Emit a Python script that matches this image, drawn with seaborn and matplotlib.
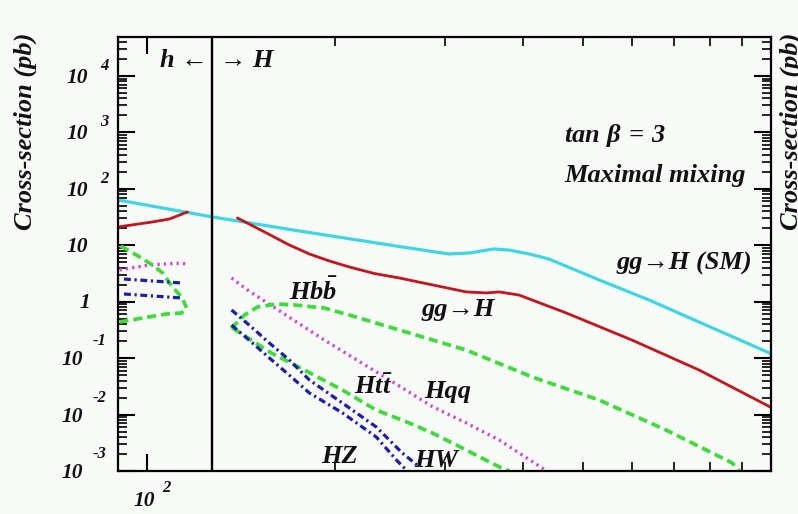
import matplotlib
matplotlib.use("Agg")
import matplotlib.pyplot as plt
import matplotlib.ticker as mticker
import pandas as pd
import seaborn as sns

# ---------------- data (mass in GeV, cross-section in pb) ----------------
sm_gg_mass = [90, 127.5, 175.7, 254, 305, 329, 360, 381, 410, 441, 531, 638, 767, 1000]
sm_gg_xsec = [63.5, 31.7, 17.9, 9.5, 7.0, 7.3, 8.6, 8.2, 7.0, 5.7, 2.42, 1.07, 0.436, 0.12]

h_gg_mass = [90, 102, 108.8, 116.3]
h_gg_xsec = [21.1, 25.8, 29.2, 38.9]
H_gg_mass = [139.8, 155.6, 169.3, 182.3, 196.3, 211.2, 231.6, 254, 325, 350, 367, 395, 470, 599, 767, 1000]
H_gg_xsec = [30.4, 16.5, 10.1, 7.0, 5.26, 4.12, 3.16, 2.63, 1.49, 1.43, 1.49, 1.31, 0.631, 0.209, 0.0616, 0.0134]

h_qq_mass = [90.5, 101, 111.5, 115.7]
h_qq_xsec = [3.65, 4.47, 4.8, 4.7]
H_qq_mass = [136.8, 145.1, 192.6, 254, 287, 325, 367, 430, 438]
H_qq_xsec = [2.63, 1.61, 0.209, 0.032, 0.0138, 0.0071, 0.00354, 0.00113, 0.001]

h_bb_mass = [90.9, 97.5, 102.2, 106.1, 110.0, 113.8, 115.9]
h_bb_xsec = [9.7, 6.2, 4.47, 3.23, 1.82, 1.21, 0.78]
h_tt_mass = [90.5, 98.5, 107.6, 113.8, 115.9]
h_tt_xsec = [0.436, 0.514, 0.605, 0.631, 0.78]
H_bb_mass = [136.6, 143.5, 150.5, 162.0, 172.5, 192.6, 219.2, 254, 325, 414.6, 530.6, 679.2, 866.4, 888.9]
H_bb_xsec = [0.337, 0.581, 0.805, 0.91, 0.875, 0.773, 0.514, 0.315, 0.139, 0.0463, 0.0181, 0.00532, 0.00139, 0.00104]
H_tt_mass = [137.3, 158.5, 178.9, 205.9, 233.3, 263.5, 286.9, 325.1, 367.1, 380.9]
H_tt_xsec = [0.342, 0.123, 0.0616, 0.0272, 0.0120, 0.00708, 0.00471, 0.00235, 0.00118, 0.001]

h_W_mass = [92, 114.2]
h_W_xsec = [2.52, 2.14]
h_Z_mass = [92, 114.2]
h_Z_xsec = [1.37, 1.16]
H_W_mass = [136.8, 147.2, 157.3, 169.3, 182.3, 205.9, 233.3, 256.8, 273.5]
H_W_xsec = [0.713, 0.356, 0.185, 0.0926, 0.041, 0.016, 0.00602, 0.00208, 0.00118]
H_Z_mass = [136.8, 147.2, 157.3, 170.6, 182.3, 205.9, 233.3, 251.2, 260.6]
H_Z_xsec = [0.386, 0.193, 0.1005, 0.0463, 0.0241, 0.0107, 0.004, 0.00157, 0.00104]

h_H_boundary = 127.5
x_limits = (90, 1000)
y_limits = (1e-3, 4.9e4)
y_exponents = list(range(-3, 5))

# ---------------- style ----------------
sns.set_theme(style="ticks")
BG = "#f8faf8"
plt.rcParams["font.family"] = ["Liberation Serif", "DejaVu Serif"]
plt.rcParams["font.weight"] = "bold"
plt.rcParams["font.style"] = "italic"
plt.rcParams["mathtext.fontset"] = "custom"
plt.rcParams["mathtext.it"] = "Liberation Serif:bold:italic"
plt.rcParams["mathtext.rm"] = "Liberation Serif:bold"
plt.rcParams["mathtext.bf"] = "Liberation Serif:bold:italic"
plt.rcParams["lines.scale_dashes"] = False

CYAN = "#3fd6e2"
RED = "#c3161c"
GREEN = "#3ddc3a"
MAGENTA = "#c94fcf"
BLUE = "#1c1ea6"

fig = plt.figure(figsize=(7.98, 5.14), dpi=100, facecolor=BG)
ax = fig.add_axes([118 / 798, 1 - 471 / 514, (771 - 118) / 798, (471 - 37) / 514])
ax.set_facecolor(BG)
ax.set_xscale("log")
ax.set_yscale("log")


def draw(mass, xsec, color, lw, ls):
    df = pd.DataFrame({"mass": mass, "xsec": xsec})
    sns.lineplot(data=df, x="mass", y="xsec", ax=ax, color=color, lw=lw,
                 linestyle=ls, estimator=None, sort=False, legend=False)


GREEN_LS = (0, (6.5, 3.6))
MAG_LS = (0, (1.7, 2.9))
BLUE_LS = (0, (5.0, 2.6, 1.6, 2.6))

draw(sm_gg_mass, sm_gg_xsec, CYAN, 2.3, "-")
draw(h_gg_mass, h_gg_xsec, RED, 2.0, "-")
draw(H_gg_mass, H_gg_xsec, RED, 2.0, "-")
draw(h_qq_mass, h_qq_xsec, MAGENTA, 2.4, MAG_LS)
draw(H_qq_mass, H_qq_xsec, MAGENTA, 2.4, MAG_LS)
draw(h_bb_mass, h_bb_xsec, GREEN, 2.7, GREEN_LS)
draw(h_tt_mass, h_tt_xsec, GREEN, 2.7, GREEN_LS)
draw(H_bb_mass, H_bb_xsec, GREEN, 2.7, GREEN_LS)
draw(H_tt_mass, H_tt_xsec, GREEN, 2.7, GREEN_LS)
draw(h_W_mass, h_W_xsec, BLUE, 2.3, BLUE_LS)
draw(h_Z_mass, h_Z_xsec, BLUE, 2.3, BLUE_LS)
draw(H_W_mass, H_W_xsec, BLUE, 2.3, BLUE_LS)
draw(H_Z_mass, H_Z_xsec, BLUE, 2.3, BLUE_LS)

ax.axvline(h_H_boundary, color="black", lw=1.7)

ax.set_xlim(*x_limits)
ax.set_ylim(*y_limits)
ax.set_xlabel("")
ax.set_ylabel("")

# ticks
ax.xaxis.set_major_locator(mticker.LogLocator(base=10, numticks=10))
ax.xaxis.set_minor_locator(mticker.LogLocator(base=10, subs=range(2, 10), numticks=20))
ax.yaxis.set_major_locator(mticker.LogLocator(base=10, numticks=20))
ax.yaxis.set_minor_locator(mticker.LogLocator(base=10, subs=range(2, 10), numticks=40))
ax.xaxis.set_major_formatter(mticker.NullFormatter())
ax.xaxis.set_minor_formatter(mticker.NullFormatter())
ax.yaxis.set_major_formatter(mticker.NullFormatter())
ax.yaxis.set_minor_formatter(mticker.NullFormatter())
ax.tick_params(which="both", direction="in", top=True, right=True, color="black")
ax.tick_params(which="major", length=12.5, width=1.5)
ax.tick_params(which="minor", length=6.5, width=1.2)
for s in ax.spines.values():
    s.set_linewidth(1.6)
    s.set_color("black")

# manual tick labels (10 with detached exponent)
PX = 0.72
ytr = ax.get_yaxis_transform()
TXT = dict(color="#111111", fontweight="bold", fontstyle="italic")
for e in y_exponents:
    v = 10.0 ** e
    if e == 0:
        ax.annotate("1", xy=(0, v), xycoords=ytr, xytext=(-28 * PX, -1 * PX),
                    textcoords="offset points", ha="right", va="center", fontsize=15.5, **TXT)
    elif e > 0:
        ax.annotate("10", xy=(0, v), xycoords=ytr, xytext=(-30 * PX, -2 * PX),
                    textcoords="offset points", ha="right", va="center", fontsize=15.5, **TXT)
        if e > 1:
            ax.annotate(str(e), xy=(0, v), xycoords=ytr, xytext=(-18 * PX, 10 * PX),
                        textcoords="offset points", ha="left", va="center", fontsize=12, **TXT)
    else:
        ax.annotate("10", xy=(0, v), xycoords=ytr, xytext=(-35 * PX, -2 * PX),
                    textcoords="offset points", ha="right", va="center", fontsize=15.5, **TXT)
        ax.annotate("-" + str(-e), xy=(0, v), xycoords=ytr, xytext=(-25 * PX, 17 * PX),
                    textcoords="offset points", ha="left", va="center", fontsize=12, **TXT)

xtr = ax.get_xaxis_transform()
ax.annotate("10", xy=(100, 0), xycoords=xtr, xytext=(-2 * PX, -30 * PX),
            textcoords="offset points", ha="center", va="center", fontsize=15.5, **TXT)
ax.annotate("2", xy=(100, 0), xycoords=xtr, xytext=(16 * PX, -16.5 * PX),
            textcoords="offset points", ha="left", va="center", fontsize=12, **TXT)

# axis titles (left, and the copy cut off at the right edge as in the original)
fig.text(25 / 798, 1 - 131.5 / 514, "Cross-section (pb)", rotation=90, ha="center",
         va="center", fontsize=19, **TXT)
fig.text(791 / 798, 1 - 131.5 / 514, "Cross-section (pb)", rotation=90, ha="center",
         va="center", fontsize=19, **TXT)

# in-plot annotations
LBL = dict(fontsize=19, ha="left", va="baseline", **TXT)
ax.text(125.2, 1.44e4, "h \u2190", fontsize=19, ha="right", va="baseline", **TXT)
ax.text(130.9, 1.44e4, "\u2192 H", fontsize=19, ha="left", va="baseline", **TXT)
ax.text(466.5, 676, r"$tan\ \mathrm{\beta}\:=\:3$", **LBL)
ax.text(466.5, 132, "Maximal mixing", **LBL)
ax.text(565, 3.65, "gg\u2192H (SM)", **LBL)
ax.text(275.4, 0.558, "gg\u2192H", **LBL)
ax.text(169.3, 1.07, r"$Hb\bar{b}$", **LBL)
ax.text(215.2, 0.0231, r"$Ht\bar{t}$", **LBL)
ax.text(278.5, 0.0196, "Hqq", **LBL)
ax.text(190.5, 0.00139, "HZ", **LBL)
ax.text(268.5, 0.00118, "HW", **LBL)

fig.savefig("out.png", dpi=100, facecolor=BG)
